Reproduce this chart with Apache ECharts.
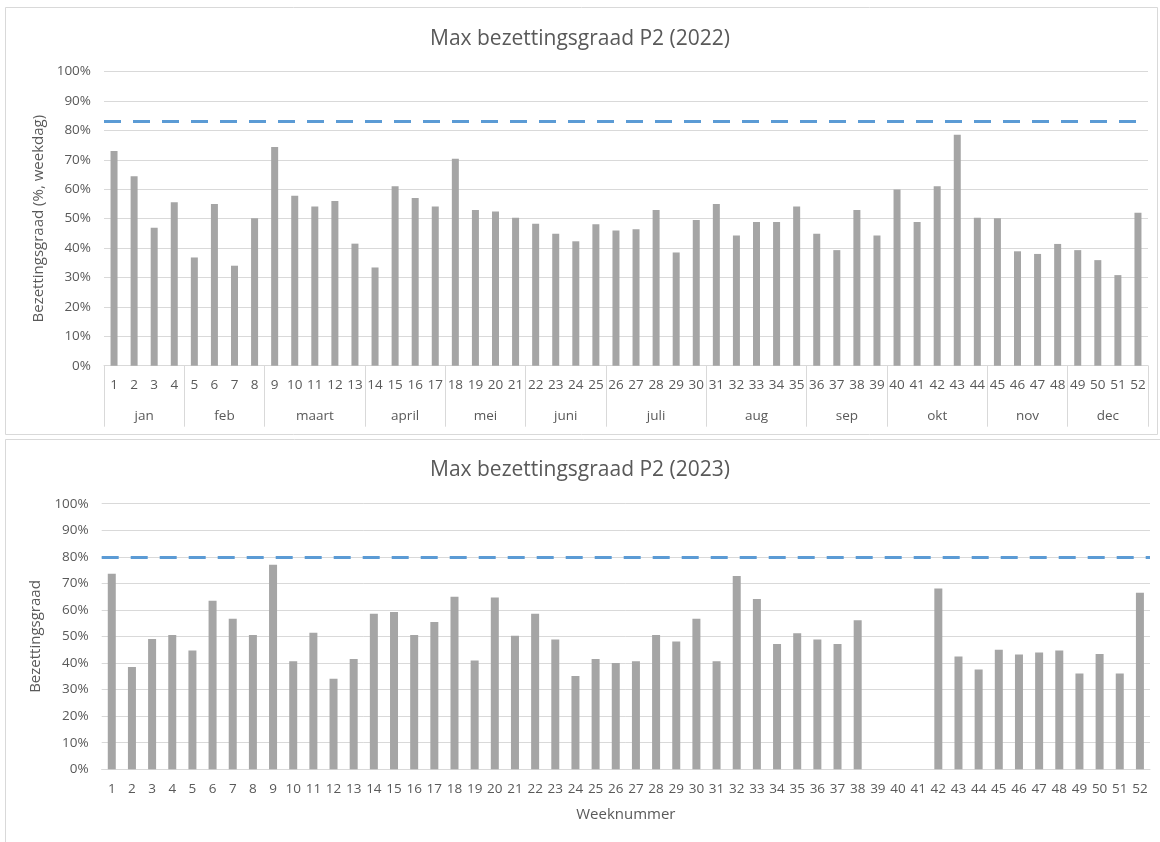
<!DOCTYPE html>
<html><head><meta charset="utf-8">
<script src="https://cdn.jsdelivr.net/npm/echarts@6/dist/echarts.min.js"></script>
<style>html,body{margin:0;padding:0;background:#fff}#c{width:1160px;height:842px}</style>
</head><body><div id="c"></div>
<script>
const weeks = ['1','2','3','4','5','6','7','8','9','10','11','12','13','14','15','16','17','18','19','20','21','22','23','24','25','26','27','28','29','30','31','32','33','34','35','36','37','38','39','40','41','42','43','44','45','46','47','48','49','50','51','52'];
const months = ['jan','feb','maart','april','mei','juni','juli','aug','sep','okt','nov','dec'];
const weeksPerMonth = [4,4,5,4,4,4,5,5,4,5,4,4];
const title2022 = 'Max bezettingsgraad P2 (2022)';
const title2023 = 'Max bezettingsgraad P2 (2023)';
const yName2022 = 'Bezettingsgraad (%, weekdag)';
const yName2023 = 'Bezettingsgraad';
const xName2023 = 'Weeknummer';
const values2022 = [73.0,64.4,46.9,55.6,36.8,55.0,34.0,50.1,74.4,57.8,54.1,56.0,41.5,33.4,61.0,57.0,54.1,70.4,52.9,52.4,50.3,48.3,44.9,42.3,48.1,46.0,46.4,52.9,38.5,49.5,55.0,44.3,48.9,48.9,54.1,44.9,39.3,52.9,44.3,59.9,48.9,61.0,78.5,50.3,50.1,38.9,38.0,41.4,39.3,35.9,30.8,52.0];
const values2023 = [73.6,38.5,49.1,50.6,44.7,63.5,56.7,50.6,77.0,40.7,51.4,34.1,41.5,58.6,59.2,50.6,55.5,65.0,41.0,64.7,50.3,58.6,48.9,35.1,41.5,40.0,40.7,50.6,48.1,56.7,40.7,72.8,64.1,47.2,51.2,48.9,47.2,56.1,null,null,null,68.1,42.5,37.6,45.0,43.2,44.0,44.7,36.1,43.4,36.1,66.5];
const threshold2022 = 83;
const threshold2023 = 80;

// Month level axis: half-week resolution points (boundaryGap false)
const monthAxis = [];
const monthBoundaries = new Set();
for (let i = 0; i <= weeks.length * 2; i++) monthAxis.push('');
let start = 0;
months.forEach((m, i) => {
  monthBoundaries.add(start * 2);
  monthAxis[start * 2 + weeksPerMonth[i]] = m;
  start += weeksPerMonth[i];
});
monthBoundaries.add(start * 2);

const FONT = 'Open Sans';
const TXT = '#595959';
const GRID = '#d9d9d9';
const BAR = '#a5a5a5';
const LINE = '#5b9bd5';
const TICK_FS = 13.5;
const NAME_FS = 15;

function yAxis(gridIndex, name, gap) {
  return {
    type: 'value', gridIndex, min: 0, max: 100, interval: 10,
    name, nameLocation: 'middle', nameGap: gap,
    nameTextStyle: { color: TXT, fontSize: NAME_FS, fontFamily: FONT },
    axisLabel: { formatter: '{value}%', color: TXT, fontSize: TICK_FS, fontFamily: FONT, margin: 13 },
    axisLine: { show: false }, axisTick: { show: false },
    splitLine: { lineStyle: { color: GRID, width: 1 } }
  };
}

function markLine(v) {
  return {
    silent: true, symbol: ['none', 'none'], label: { show: false },
    lineStyle: { color: LINE, width: 3, type: [17, 12] },
    data: [{ yAxis: v }]
  };
}

const chart = echarts.init(document.getElementById('c'));
chart.setOption({
  backgroundColor: '#fff',
  animation: false,
  textStyle: { fontFamily: FONT },
  graphic: [
    { type: 'rect', shape: { x: 5.5, y: 7.5, width: 1152, height: 427 }, style: { fill: 'none', stroke: GRID, lineWidth: 1 }, silent: true },
    { type: 'rect', shape: { x: 5.5, y: 439.5, width: 1170, height: 420 }, style: { fill: 'none', stroke: GRID, lineWidth: 1 }, silent: true }
  ],
  title: [
    { text: title2022, left: 'center', top: 24, textStyle: { color: TXT, fontSize: 21, fontWeight: 'normal', fontFamily: FONT } },
    { text: title2023, left: 'center', top: 455, textStyle: { color: TXT, fontSize: 21, fontWeight: 'normal', fontFamily: FONT } }
  ],
  grid: [
    { left: 104, right: 12, top: 71.6, bottom: 842 - 365.7 },
    { left: 101.7, right: 10, top: 503.7, bottom: 842 - 769.3 }
  ],
  xAxis: [
    { type: 'category', gridIndex: 0, data: weeks,
      axisLine: { lineStyle: { color: GRID } }, axisTick: { show: false },
      axisLabel: { interval: 0, color: TXT, fontSize: TICK_FS, fontFamily: FONT, margin: 12 } },
    { type: 'category', gridIndex: 0, data: monthAxis, boundaryGap: false, position: 'bottom',
      axisLine: { show: false },
      axisTick: { show: true, length: 61, interval: (i) => monthBoundaries.has(i), lineStyle: { color: GRID } },
      axisLabel: { interval: 0, color: TXT, fontSize: TICK_FS, fontFamily: FONT, margin: 43 } },
    { type: 'category', gridIndex: 1, data: weeks,
      name: xName2023, nameLocation: 'middle', nameGap: 38,
      nameTextStyle: { color: TXT, fontSize: NAME_FS, fontFamily: FONT },
      axisLine: { lineStyle: { color: GRID } }, axisTick: { show: false },
      axisLabel: { interval: 0, color: TXT, fontSize: TICK_FS, fontFamily: FONT, margin: 13 } }
  ],
  yAxis: [ yAxis(0, yName2022, 56), yAxis(1, yName2023, 54) ],
  series: [
    { type: 'bar', xAxisIndex: 0, yAxisIndex: 0, data: values2022, barWidth: 7,
      itemStyle: { color: BAR }, markLine: markLine(threshold2022) },
    { type: 'bar', xAxisIndex: 2, yAxisIndex: 1, data: values2023, barWidth: 8,
      itemStyle: { color: BAR }, markLine: markLine(threshold2023) }
  ]
});
</script>
</body></html>
